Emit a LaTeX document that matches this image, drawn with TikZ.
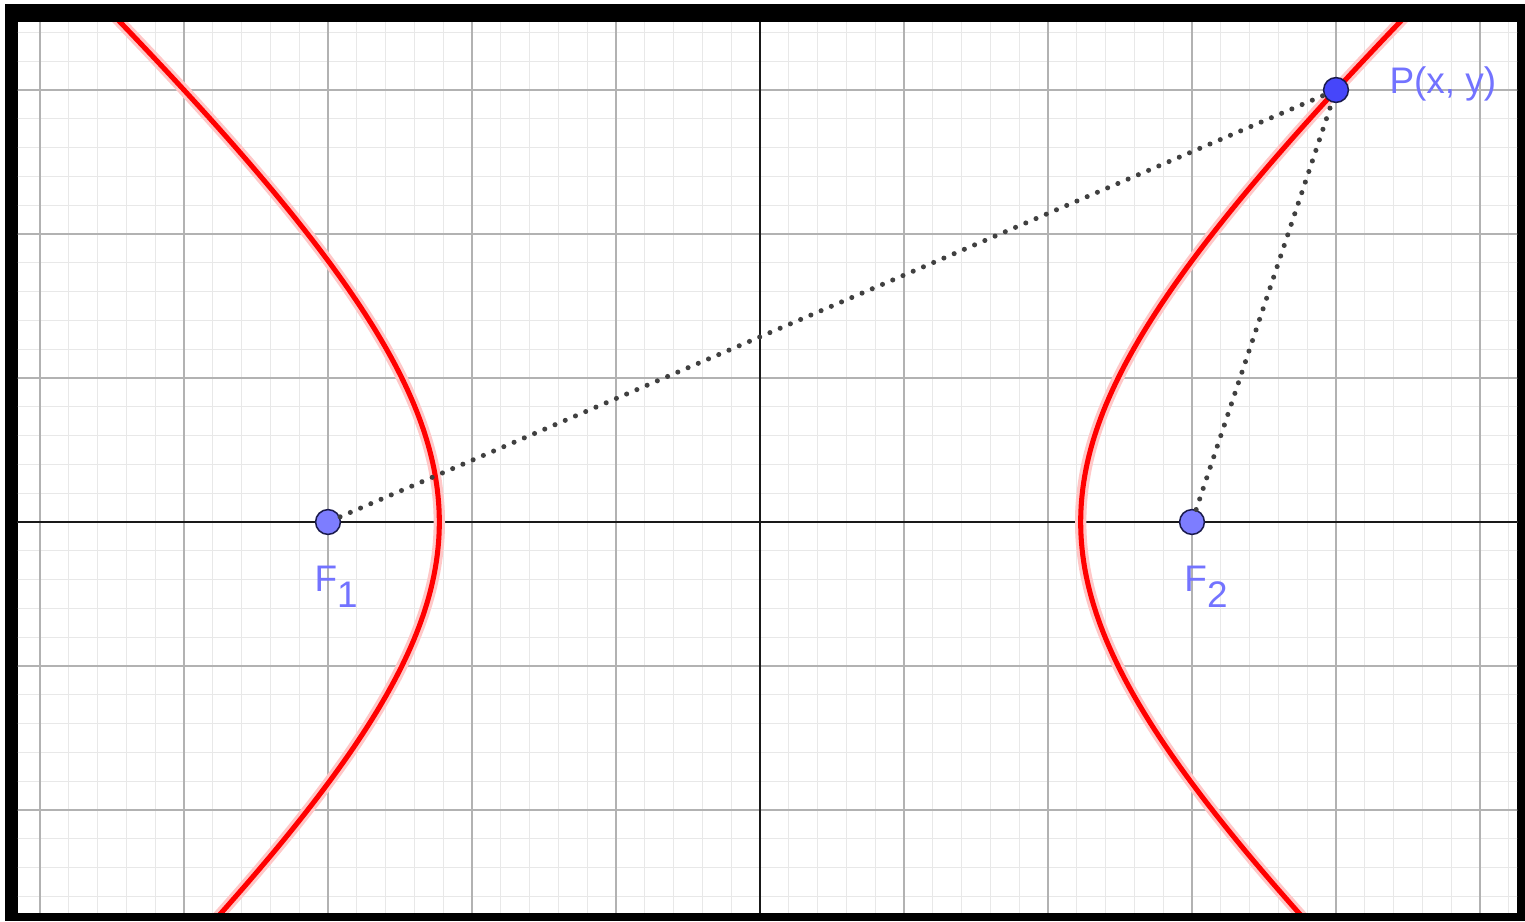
\documentclass[tikz,border=0pt]{standalone}
\usepackage{fontspec}
\setmainfont{Liberation Sans}
\definecolor{focusblue}{RGB}{125,125,255}
\definecolor{pointblue}{RGB}{70,70,250}
\definecolor{pointedge}{RGB}{26,26,77}
\definecolor{labelblue}{RGB}{115,115,255}
\begin{document}
\begin{tikzpicture}[x=2cm,y=2cm,
  minorgrid/.style={draw=black!9, line width=0.4pt},
  majorgrid/.style={draw=black!30, line width=0.6pt},
  axisline/.style={draw=black!90, line width=1.1pt},
  curve/.style={draw=red, line width=2pt},
  glow/.style={draw=red!22, line width=4.5pt},
  focus/.style={circle, fill=focusblue, draw=pointedge, line width=0.6pt, minimum size=9.8pt, inner sep=0pt},
  ptpoint/.style={focus, fill=pointblue},
  connector/.style={draw=black!75, line width=2pt, line cap=round, dash pattern=on 0pt off 4.4pt},
  lab/.style={text=labelblue, font=\fontsize{14.6}{16}\selectfont, inner sep=0pt, anchor=base west}]
\useasboundingbox (-5.2778,-2.7708) rectangle (5.3125,3.625);
\fill[white] (-5.2778,-2.7708) rectangle (5.3125,3.625);
\fill[black] (-5.243,-2.7708) rectangle (5.3125,3.597);
\fill[white] (-5.153,-2.715) rectangle (5.257,3.472);
\begin{scope}
  \clip (-5.153,-2.715) rectangle (5.257,3.472);
  \draw[minorgrid] (-6,-3) grid[step=0.2] (6,4);
  \draw[majorgrid] (-6,-3) grid[step=1] (6,4);
  \draw[axisline] (-5.4,0) -- (5.4,0);
  \draw[axisline] (0,-2.9) -- (0,3.7);
  \draw[glow] plot[domain=-1.5:1.5, samples=120, smooth] ({2.22675*cosh(\x)},{2.01037*sinh(\x)});
  \draw[glow] plot[domain=-1.5:1.5, samples=120, smooth] ({-2.22675*cosh(\x)},{2.01037*sinh(\x)});
  \draw[curve] plot[domain=-1.5:1.5, samples=120, smooth] ({2.22675*cosh(\x)},{2.01037*sinh(\x)});
  \draw[curve] plot[domain=-1.5:1.5, samples=120, smooth] ({-2.22675*cosh(\x)},{2.01037*sinh(\x)});
\end{scope}
\node[focus] (F1) at (-3,0) {};
\node[focus] (F2) at (3,0) {};
\node[ptpoint] (P) at (4,3) {};
\draw[connector] (F1) -- (P);
\draw[connector] (F2) -- (P);
\node[lab] (F1lab) at (-3.097,-0.486) {F\raisebox{-6.3pt}{1}};
\node[lab] (F2lab) at (2.944,-0.486) {F\raisebox{-6.3pt}{2}};
\node[lab] (Plab) at (4.368,2.979) {P(x, y)};
\end{tikzpicture}
\end{document}
